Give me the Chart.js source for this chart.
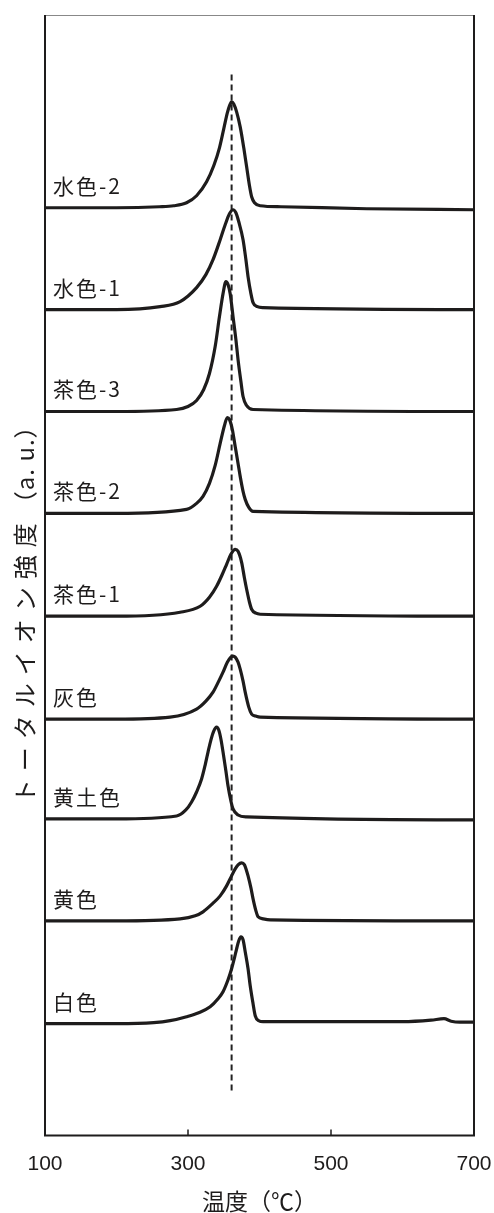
<!DOCTYPE html>
<html>
<head>
<meta charset="utf-8">
<script src="https://cdn.jsdelivr.net/npm/chart.js@4"></script>
<style>
  body { margin: 0; background: #fff; }
  canvas { display: block; }
</style>
</head>
<body>
<canvas id="mycanvas" width="494" height="1213"></canvas>
<script>
// sample names, top to bottom, and the vertical offset of each trace
var names = ['水色-2', '水色-1', '茶色-3', '茶色-2', '茶色-1', '灰色', '黄土色', '黄色', '白色']
var offsets = [929, 827, 725, 623, 520, 417, 317, 215, 112]

// temperature (°C) / intensity (a.u.)
var tMizu2 = [100, 200, 260, 280, 298, 312, 326, 336, 344, 350, 355, 358, 361, 364, 368, 373, 378, 382, 386, 389, 393, 401, 430, 550, 700]
var yMizu2 = [0, 0, 1, 2, 5, 12, 26, 42, 60, 79, 95, 102, 106, 104, 96, 81, 60, 41, 22, 11, 5, 2, 1, -1, -2]

var tMizu1 = [100, 200, 261, 289, 312, 325, 335, 345, 352, 358, 363, 367, 371, 377, 381, 384, 388, 391, 397, 405, 700]
var yMizu1 = [0, 0, 3, 8, 22, 35, 50, 70, 85, 96, 100, 97, 88, 70, 50, 33, 16, 7, 3, 2, 0]

var tCha3 = [100, 200, 284, 300, 312, 322, 330, 338, 344, 349, 353, 356, 359, 363, 367, 370, 374, 377, 382, 391, 700]
var yCha3 = [0, 0, 2, 5, 11, 22, 38, 65, 95, 118, 130, 127, 118, 95, 72, 52, 30, 15, 6, 2, 0]

var tCha2 = [100, 200, 298, 312, 321, 330, 338, 345, 351, 355, 358, 362, 366, 370, 373, 377, 380, 385, 391, 700]
var yCha2 = [0, 0, 4, 10, 17, 30, 48, 70, 88, 96, 94, 84, 67, 50, 37, 22, 14, 6, 2, 0]

var tCha1 = [100, 200, 289, 317, 330, 340, 348, 354, 360, 366, 370, 375, 379, 382, 386, 389, 395, 401, 700]
var yCha1 = [0, 0, 4, 10, 19, 30, 42, 52, 62, 67, 65, 54, 38, 27, 14, 7, 3, 2, 0]

var tHai = [100, 200, 275, 312, 325, 335, 343, 349, 355, 360, 363, 366, 370, 373, 377, 380, 385, 389, 395, 401, 700]
var yHai = [0, 0, 2, 10, 18, 27, 38, 47, 57, 62, 63, 62, 57, 50, 38, 27, 12, 5, 3, 2, 0]

var tOudo = [100, 200, 284, 297, 305, 312, 319, 324, 328, 332, 336, 340, 343, 346, 349, 353, 356, 360, 363, 370, 382, 700]
var yOudo = [0, 0, 3, 9, 17, 27, 40, 54, 67, 79, 88, 92, 89, 80, 67, 48, 33, 18, 10, 4, 2, -1]

var tKi = [100, 200, 289, 310, 321, 334, 345, 354, 361, 366, 370, 375, 379, 382, 384, 388, 391, 395, 398, 405, 415, 700]
var yKi = [0, 0, 2, 5, 9, 17, 25, 35, 45, 52, 56, 58, 56, 50, 45, 33, 22, 10, 4, 2, 1, 0]

var tShiro = [100, 200, 252, 275, 298, 315, 331, 342, 349, 356, 361, 365, 368, 371, 374, 377, 380, 384, 387, 391, 394, 399, 405, 450, 600, 640, 658, 668, 680, 700]
var yShiro = [0, 0, 1, 3, 7, 11, 17, 25, 32, 44, 55, 66, 75, 83, 87, 84, 72, 55, 38, 20, 8, 3, 2, 2, 2, 3.5, 5, 2.5, 1.5, 1.5]

var temps = [tMizu2, tMizu1, tCha3, tCha2, tCha1, tHai, tOudo, tKi, tShiro]
var values = [yMizu2, yMizu1, yCha3, yCha2, yCha1, yHai, yOudo, yKi, yShiro]

// reference temperature (dashed line) and x ticks
var refTemp = 361
var refSpan = [45, 1065]
var xTicks = [100, 300, 500, 700]

var jp = '"Noto Sans CJK JP", "Noto Sans", sans-serif'
var ink = '#1e1c1c'

var datasets = []
for (var i = 0; i < names.length; i++) {
    var pts = []
    for (var j = 0; j < temps[i].length; j++) {
        pts.push({x: temps[i][j], y: offsets[i] + values[i][j]})
    }
    datasets.push({
        label: names[i],
        data: pts,
        borderColor: ink,
        borderWidth: 3.2,
        pointRadius: 0,
        cubicInterpolationMode: 'monotone',
        fill: false
    })
}
datasets.push({
    label: 'ref',
    data: [{x: refTemp, y: refSpan[0]}, {x: refTemp, y: refSpan[1]}],
    borderColor: '#222',
    borderWidth: 2,
    borderDash: [6, 4],
    pointRadius: 0
})

var frame = {
    id: 'frame',
    afterDraw: function(chart) {
        var ctx = chart.ctx
        var a = chart.chartArea
        var xs = chart.scales.x
        var ys = chart.scales.y
        ctx.save()
        // box
        ctx.strokeStyle = '#888'
        ctx.lineWidth = 1
        ctx.beginPath()
        ctx.moveTo(a.left, a.top + 0.5)
        ctx.lineTo(a.right, a.top + 0.5)
        ctx.stroke()
        ctx.strokeStyle = ink
        ctx.lineWidth = 2
        ctx.beginPath()
        ctx.moveTo(a.left, a.top)
        ctx.lineTo(a.left, a.bottom)
        ctx.lineTo(a.right, a.bottom)
        ctx.lineTo(a.right, a.top)
        ctx.stroke()
        // inner ticks
        ctx.lineWidth = 1.5
        xTicks.forEach(function(v) {
            var px = xs.getPixelForValue(v)
            ctx.beginPath()
            ctx.moveTo(px, a.bottom)
            ctx.lineTo(px, a.bottom - 6)
            ctx.stroke()
        })
        // sample labels
        ctx.fillStyle = ink
        ctx.font = '21px ' + jp
        ctx.letterSpacing = '2px'
        ctx.textAlign = 'left'
        ctx.textBaseline = 'middle'
        for (var i = 0; i < names.length; i++) {
            ctx.fillText(names[i], xs.getPixelForValue(100) + 8, ys.getPixelForValue(offsets[i]) - 22)
        }
        // y title: kana part spaced out, unit part tight
        var partA = 'トータルイオン強度', partB = '（a. u.）'
        ctx.translate(25, (a.top + a.bottom) / 2 + 33)
        ctx.rotate(-Math.PI / 2)
        ctx.font = '24px ' + jp
        ctx.letterSpacing = '8px'
        var wA = ctx.measureText(partA).width
        ctx.letterSpacing = '1px'
        var wB = ctx.measureText(partB).width
        var x0 = -(wA + wB) / 2
        ctx.textAlign = 'left'
        ctx.letterSpacing = '8px'
        ctx.fillText(partA, x0, 0)
        ctx.letterSpacing = '1px'
        ctx.fillText(partB, x0 + wA, 0)
        ctx.restore()
    }
}

var chart = new Chart($id('mycanvas'), {
    type: 'line',
    data: {datasets: datasets},
    options: {
        responsive: false,
        animation: false,
        layout: {padding: {left: 45, top: 15, right: 20, bottom: 0}},
        plugins: {legend: {display: false}, tooltip: {enabled: false}},
        scales: {
            x: {
                type: 'linear',
                min: 100,
                max: 700,
                afterBuildTicks: function(s) { s.ticks = xTicks.map(function(v) { return {value: v} }) },
                afterFit: function(s) { s.paddingLeft = 0; s.paddingRight = 0 },
                grid: {display: false, drawTicks: false},
                border: {display: false},
                ticks: {color: ink, padding: 16, font: {family: '"Liberation Sans", Arial', size: 21}},
                title: {display: true, text: '温度（℃）', color: ink, padding: {top: 0, bottom: 3}, font: {family: jp, size: 23, lineHeight: 0.75}}
            },
            y: {
                min: 0,
                max: 1122,
                display: false
            }
        }
    },
    plugins: [frame]
})

function $id(id) { return document.getElementById(id) }
</script>
</body>
</html>
